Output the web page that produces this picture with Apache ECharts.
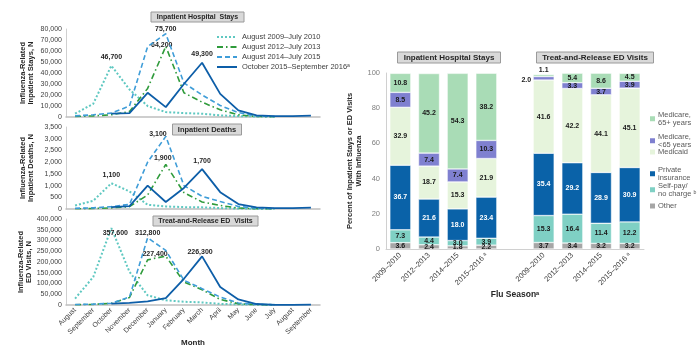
<!DOCTYPE html>
<html><head><meta charset="utf-8">
<script src="https://cdn.jsdelivr.net/npm/echarts@6/dist/echarts.min.js"></script>
<style>html,body{margin:0;padding:0;background:#fff}#c{width:700px;height:364px}</style>
</head><body><div id="c"></div>
<script>
// ---------- Left panel: monthly counts ----------
const months = ['August','September','October','November','December','January','February','March','April','May','June','July','August','September'];
const seasonNames = ['August 2009–July 2010','August 2012–July 2013','August 2014–July 2015','October 2015–September 2016ᵃ'];

const stays2009 = [3000,12000,46700,25000,10000,4500,3500,3000,1500,800,500,300];
const stays2012 = [500,1000,2000,5000,26000,64200,22000,13500,6500,2000,500,200];
const stays2014 = [1000,2000,3500,10000,64000,75700,31000,20000,10500,4000,1000,300];
const stays2015 = [null,null,3000,3500,22000,9000,30000,49300,21000,6000,1500,800,800,1200];

const deaths2009 = [150,350,1100,750,180,110,80,70,40,20,10,5];
const deaths2012 = [10,20,50,100,600,1900,700,300,150,40,10,5];
const deaths2014 = [30,50,100,200,2000,3100,1000,540,320,110,30,10];
const deaths2015 = [null,null,80,120,1000,300,900,1700,720,210,70,40,40,60];

const ed2009 = [30000,130000,357600,154000,45000,22000,15000,12000,5000,3000,2000,1000];
const ed2012 = [1000,3000,8000,35000,210000,227400,107000,71000,26000,6000,1000,500];
const ed2014 = [2000,4000,8000,37000,312800,254000,115000,76000,37000,9000,3000,1000];
const ed2015 = [null,null,6000,10000,17000,32000,122000,226300,84000,26000,4600,1000,1000,2000];

// index of the labelled peak in each series
const staysPeak = [2,5,5,7];
const deathsPeak = [2,5,5,7];
const edPeak = [2,5,4,7];

// ---------- Right panel: payer shares (%) ----------
const seasons = ['2009–2010','2012–2013','2014–2015','2015–2016 ᵃ'];
const payerNames = ['Other','Self-pay/\nno charge ᵇ','Private\ninsurance','Medicaid','Medicare,\n<65 years','Medicare,\n65+ years'];
const inpOther    = [3.6,2.4,1.8,2.2];
const inpSelfPay  = [7.3,4.4,3.0,3.9];
const inpPrivate  = [36.7,21.6,18.0,23.4];
const inpMedicaid = [32.9,18.7,15.3,21.9];
const inpMcrLt65  = [8.5,7.4,7.4,10.3];
const inpMcr65    = [10.8,45.2,54.3,38.2];
const edOther    = [3.7,3.4,3.2,3.2];
const edSelfPay  = [15.3,16.4,11.4,12.2];
const edPrivate  = [35.4,29.2,28.9,30.9];
const edMedicaid = [41.6,42.2,44.1,45.1];
const edMcrLt65  = [2.0,3.3,3.7,3.9];
const edMcr65    = [1.1,5.4,8.6,4.5];
const percentTicks = [0,20,40,60,80,100];

// ---------- styling ----------
const FONT = "'Liberation Sans', Arial, sans-serif";
const lineColors = ['#5fc8c1','#2f9b3b','#3f9dd8','#0d5ea8'];
const lineTypes = ['dotted',[6,3,1.5,3],[5,3],'solid'];
const lineWidths = [2,1.6,1.6,1.8];
const payerColors = ['#a6a6a6','#7fd0c4','#0a62a8','#e6f4dc','#7f80d0','#a9dcb6'];
const fmt = v => v.toLocaleString('en-US');

const leftGrids = [
  {left:66, width:254, top:29, height:88},
  {left:66, width:254, top:127, height:82},
  {left:66, width:254, top:219, height:86}
];
const yMax = [80000,3500,400000];
const yInt = [10000,500,50000];
const yNames = ['Influenza-Related\nInpatient Stays, N','Influenza-Related\nInpatient Deaths, N','Influenza-Related\nED Visits, N'];
const panels = [
  {data:[stays2009,stays2012,stays2014,stays2015], peak:staysPeak,
   lab:[{position:'top'},{position:'top',offset:[-4,7]},{position:'top',offset:[0,4]},{position:'top'}]},
  {data:[deaths2009,deaths2012,deaths2014,deaths2015], peak:deathsPeak,
   lab:[{position:'top'},{position:'top',offset:[-3,2]},{position:'left',distance:2,offset:[3,-2]},{position:'top'}]},
  {data:[ed2009,ed2012,ed2014,ed2015], peak:edPeak,
   lab:[{position:'top',offset:[4,13]},{position:'left',distance:2,offset:[4,-2]},{position:'top',offset:[0,4]},{position:'top',offset:[-2,4]}]}
];

const grids = leftGrids.concat([{left:386, width:258, top:73, height:176}]);
const xAxes = [], yAxes = [], series = [];

leftGrids.forEach((g,i) => {
  xAxes.push({
    type:'category', gridIndex:i, data:months, boundaryGap:true,
    axisLine:{lineStyle:{color:'#bfbfbf', width:1.5}}, axisTick:{show:false},
    axisLabel: i===2 ? {rotate:45, fontSize:7, color:'#404040', fontFamily:FONT, margin:4, interval:0} : {show:false},
    name: i===2 ? 'Month' : '', nameLocation:'middle', nameGap:27,
    nameTextStyle:{fontSize:8, fontWeight:'bold', color:'#262626', fontFamily:FONT}
  });
  yAxes.push({
    type:'value', gridIndex:i, min:0, max:yMax[i], interval:yInt[i],
    axisLine:{show:true, lineStyle:{color:'#d0d0d0'}}, axisTick:{show:false}, splitLine:{show:false},
    axisLabel:{fontSize:7, color:'#404040', fontFamily:FONT, margin:4, formatter:fmt},
    name:yNames[i], nameLocation:'middle', nameGap:31,
    nameTextStyle:{fontSize:7.5, fontWeight:'bold', color:'#262626', fontFamily:FONT, lineHeight:8}
  });
  panels[i].data.forEach((arr,s) => {
    series.push({
      type:'line', name:seasonNames[s], xAxisIndex:i, yAxisIndex:i,
      symbol:'none', showSymbol:true,
      lineStyle:{color:lineColors[s], type:lineTypes[s], width:lineWidths[s]},
      itemStyle:{color:lineColors[s]},
      data: arr.map((v,k) => k===panels[i].peak[s] ? {
        value:v, symbol:'circle', symbolSize:0.1,
        label:Object.assign({show:true, formatter:p=>fmt(p.value), fontSize:7, fontWeight:'bold', color:'#262626', fontFamily:FONT}, panels[i].lab[s])
      } : v),
      z: 3+s
    });
  });
});

// right panel axes
const barCats = seasons.concat([''], seasons);
xAxes.push({
  type:'category', gridIndex:3, data:barCats,
  axisLine:{lineStyle:{color:'#d0d0d0'}}, axisTick:{show:false},
  axisLabel:{rotate:45, fontSize:7.5, color:'#404040', fontFamily:FONT, interval:0, margin:5},
  name:'Flu Seasonᵃ', nameLocation:'middle', nameGap:39,
  nameTextStyle:{fontSize:8.5, fontWeight:'bold', color:'#262626', fontFamily:FONT}
});
yAxes.push({
  type:'value', gridIndex:3, min:percentTicks[0], max:percentTicks[percentTicks.length-1], interval:percentTicks[1]-percentTicks[0],
  axisLine:{show:true, lineStyle:{color:'#d0d0d0'}}, axisTick:{show:false}, splitLine:{show:false},
  axisLabel:{fontSize:7.5, color:'#7f7f7f', fontFamily:FONT, margin:6},
  name:'Percent of Inpatient Stays or ED Visits\nWith Influenza', nameLocation:'middle', nameGap:18,
  nameTextStyle:{fontSize:7.5, fontWeight:'bold', color:'#262626', fontFamily:FONT, lineHeight:9}
});

const inpArrays = [inpOther,inpSelfPay,inpPrivate,inpMedicaid,inpMcrLt65,inpMcr65];
const edArrays = [edOther,edSelfPay,edPrivate,edMedicaid,edMcrLt65,edMcr65];
inpArrays.forEach((inp,p) => {
  const vals = inp.concat(['-'], edArrays[p]);
  series.push({
    type:'bar', name:payerNames[p], xAxisIndex:3, yAxisIndex:3, stack:'payer', barWidth:21,
    itemStyle:{color:payerColors[p], borderColor:'#ffffff', borderWidth:0.5},
    label:{show:true, position:'inside', fontSize:7, fontWeight:'bold', fontFamily:FONT,
      color: p===2 ? '#ffffff' : '#1a1a1a', formatter:q=>Number(q.value).toFixed(1)},
    data: vals.map((v,k) => {
      if (k===5 && p===4) return {value:v, label:{position:'left', distance:2, offset:[0,2]}};
      if (k===5 && p===5) return {value:v, label:{position:'top', distance:1}};
      return v;
    })
  });
});

// titles (boxed)
const box = {backgroundColor:'#d9d9d9', borderColor:'#9a9a9a', borderWidth:1, textAlign:'center'};
const titles = [
  {text:'Inpatient Hospital  Stays', left:191.5, top:12, fs:7},
  {text:'Inpatient Deaths', left:201, top:124, fs:7.5},
  {text:'Treat-and-Release ED  Visits', left:199.5, top:216, fs:7},
  {text:'Inpatient Hospital Stays', left:443, top:52, fs:8},
  {text:'Treat-and-Release ED Visits', left:589, top:52, fs:8}
].map(t => Object.assign({}, box, {text:t.text, left:t.left, top:t.top, padding:[1.5,6],
  textStyle:{fontSize:t.fs, fontWeight:'bold', color:'#262626', fontFamily:FONT}}));

// legends
const legends = [{
  data:seasonNames, left:216, top:33, orient:'vertical', itemWidth:20, itemHeight:6, itemGap:2, padding:0,
  itemStyle:{opacity:0},
  textStyle:{fontSize:7.5, color:'#404040', fontFamily:FONT}
}];
const legTops = [202,182,166,148,133,111];
payerNames.forEach((n,p) => legends.push({
  data:[{name:n, icon:'rect'}], left:650, top:legTops[p], orient:'vertical', itemWidth:5, itemHeight:5, padding:0,
  itemStyle:{borderWidth:0},
  textStyle:{fontSize:7.5, color:'#595959', fontFamily:FONT, lineHeight:7.5, padding:[0,0,0,-2]}
}));

const chart = echarts.init(document.getElementById('c'));
chart.setOption({
  animation:false,
  backgroundColor:'#ffffff',
  title:titles,
  legend:legends,
  grid:grids,
  xAxis:xAxes,
  yAxis:yAxes,
  series:series
});
</script></body></html>
